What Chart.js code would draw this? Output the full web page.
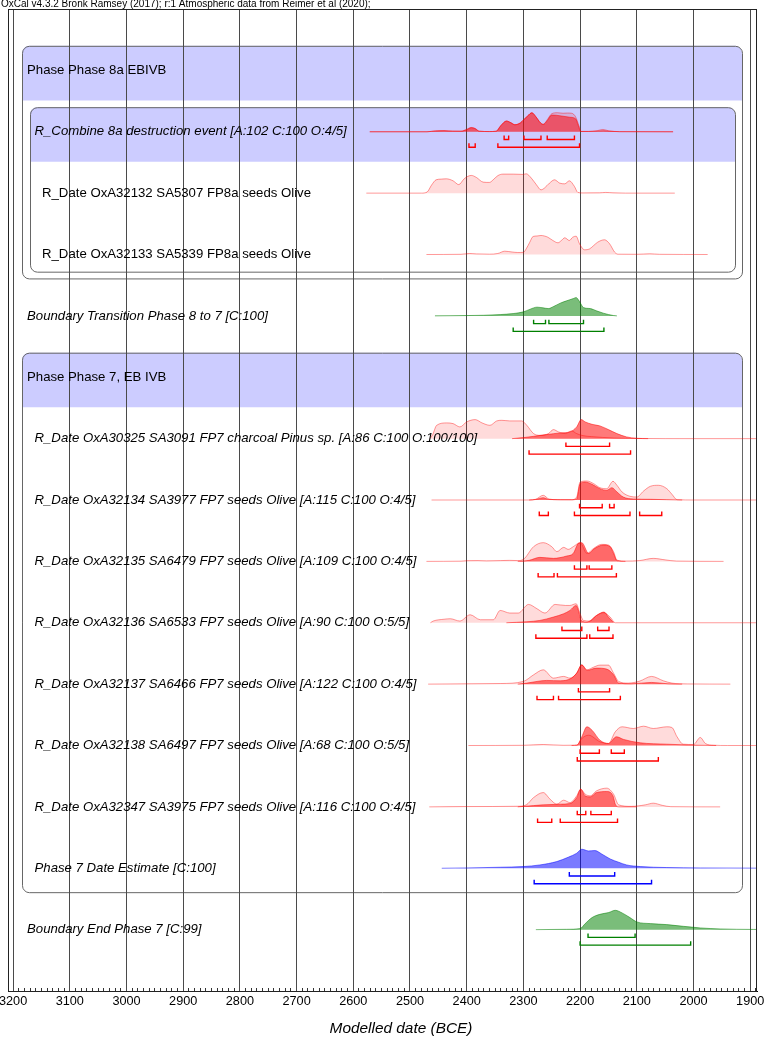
<!DOCTYPE html>
<html>
<head>
<meta charset="utf-8">
<script src="https://cdn.jsdelivr.net/npm/chart.js@4.4.1/dist/chart.umd.min.js"></script>
<style>
  html, body { margin: 0; padding: 0; background: #fff; }
  #wrap { width: 765px; height: 1043px; position: relative; }
</style>
</head>
<body>
<div id="wrap"><canvas id="oxcal"></canvas></div>
<script>
// Axis (years BCE, drawn right-to-left in time)
const X_MIN = 1888, X_MAX = 3209;
const majorTicks = [3200, 3100, 3000, 2900, 2800, 2700, 2600, 2500, 2400, 2300, 2200, 2100, 2000, 1900];

// Rows of the plot, top to bottom
const rowLabels = [
    "Phase Phase 8a EBIVB",
    "R_Combine 8a destruction event [A:102 C:100 O:4/5]",
    "R_Date OxA32132 SA5307 FP8a seeds Olive",
    "R_Date OxA32133 SA5339 FP8a seeds Olive",
    "Boundary Transition Phase 8 to 7 [C:100]",
    "Phase Phase 7, EB IVB",
    "R_Date OxA30325 SA3091 FP7 charcoal Pinus sp. [A:86 C:100 O:100/100]",
    "R_Date OxA32134 SA3977 FP7 seeds Olive [A:115 C:100 O:4/5]",
    "R_Date OxA32135 SA6479 FP7 seeds Olive [A:109 C:100 O:4/5]",
    "R_Date OxA32136 SA6533 FP7 seeds Olive [A:90 C:100 O:5/5]",
    "R_Date OxA32137 SA6466 FP7 seeds Olive [A:122 C:100 O:4/5]",
    "R_Date OxA32138 SA6497 FP7 seeds Olive [A:68 C:100 O:5/5]",
    "R_Date OxA32347 SA3975 FP7 seeds Olive [A:116 C:100 O:4/5]",
    "Phase 7 Date Estimate [C:100]",
    "Boundary End Phase 7 [C:99]"
];
const rowItalic = [false, true, false, false, true, false, true, true, true, true, true, true, true, true, true];
const rowIndent = [0, 1, 2, 2, 0, 0, 1, 1, 1, 1, 1, 1, 1, 1, 0];

// Relative probability [year BCE, density]
const combinePrior = [[2571,0],[2470,0],[2455,0.8],[2440,1],[2425,0.6],[2410,0.6],[2400,2.5],[2392,4.3],[2385,3.3],[2378,0.6],[2360,0.2],[2348,0.5],[2340,6],[2330,10.7],[2322,9],[2315,7],[2305,9],[2300,11.7],[2292,16],[2285,19],[2278,15],[2270,9],[2265,7.5],[2258,12],[2250,18],[2240,19],[2230,18.5],[2222,18.7],[2215,18.5],[2208,15],[2202,6],[2198,0.3],[2185,0.3],[2170,1],[2160,2.3],[2150,1],[2130,0.1],[2036,0]];
const combinePost = [[2571,0],[2470,0],[2455,0.8],[2440,1],[2425,0.6],[2410,0.5],[2400,2],[2392,4],[2385,3],[2378,0.5],[2360,0.2],[2348,0.5],[2340,6],[2330,10.7],[2322,9],[2315,7],[2305,9],[2300,11.7],[2292,16],[2285,19],[2278,15],[2270,9],[2265,7.3],[2258,11],[2250,16.7],[2242,16.5],[2230,15.5],[2218,14.5],[2208,13],[2203,6],[2199,0.3],[2185,0.3],[2170,0.6],[2159,1],[2148,0.4],[2130,0.1],[2036,0]];
const oxa32132Prior = [[2577,0],[2480,0],[2470,1],[2462,8],[2454,13.3],[2445,14],[2436,14.3],[2424,12.3],[2414,8.5],[2405,14],[2399,16.5],[2392,17.7],[2383,15.7],[2371,11],[2360,10.7],[2352,14],[2345,17.5],[2336,19],[2318,19],[2301,18.7],[2295,19.3],[2286,15],[2277,8.3],[2269,3.3],[2263,5],[2254,10],[2245,13.3],[2236,10],[2227,9.3],[2219,12.3],[2210,6.7],[2204,0.7],[2195,0.2],[2166,0.3],[2155,0.7],[2142,0.3],[2120,0],[2033,0]];
const oxa32133Prior = [[2471,0],[2410,0.2],[2395,1],[2383,0.6],[2360,0.3],[2345,1],[2333,3.3],[2320,2.5],[2310,2],[2300,2.2],[2295,5.7],[2289,12],[2283,18],[2276,18.5],[2269,19],[2263,18.5],[2257,17.3],[2248,14],[2239,11.7],[2233,14],[2227,16.7],[2219,14],[2213,17.3],[2207,18.3],[2201,10.7],[2192,4.7],[2183,5.7],[2176,9],[2169,12.3],[2157,14.7],[2148,10.7],[2139,2.3],[2133,0.3],[2100,0.2],[2077,0.7],[2060,0.2],[1975,0]];
const transitionPost = [[2456,0],[2400,0.3],[2370,0.6],[2341,1.3],[2318,2.3],[2300,4],[2288,6.7],[2276,8.7],[2265,8],[2256,7.3],[2247,9.3],[2235,12.7],[2224,15],[2212,17.3],[2207,18.3],[2203,16],[2200,13.3],[2194,8.3],[2182,7.3],[2171,5],[2159,2.7],[2141,0.3],[2135,0]];
const oxa30325Prior = [[2465,0],[2460,4],[2453,13.3],[2435,15.7],[2424,15],[2412,11.7],[2400,16.7],[2385,19],[2373,15.7],[2359,13.3],[2347,17.7],[2338,18.3],[2324,17.7],[2303,17.7],[2294,13.3],[2282,5],[2271,3.3],[2256,5],[2247,9],[2238,6.7],[2226,5],[2215,7.7],[2206,5],[2195,3],[2180,2],[2160,1.2],[2140,0.6],[2100,0.2],[2000,0],[1888,0]];
const oxa30325Post = [[2320,0],[2300,1],[2282,2.3],[2259,4],[2235,5.7],[2218,6.7],[2206,11.7],[2198,19],[2191,16.7],[2179,14.3],[2165,12.7],[2150,9],[2135,5],[2118,1.7],[2100,0.3],[2080,0]];
const oxa32134Prior = [[2462,0],[2290,0],[2278,0.8],[2265,4.7],[2255,1],[2240,0.3],[2215,0.3],[2206,3],[2200,18],[2188,19],[2176,16.3],[2165,12.3],[2153,11.3],[2142,18.7],[2135,14.7],[2126,8],[2112,3.7],[2100,3],[2088,9],[2076,13.7],[2062,14.7],[2047,11.3],[2038,5.7],[2029,0.3],[2000,0],[1888,0]];
const oxa32134Post = [[2290,0],[2278,0.5],[2265,2.3],[2255,0.5],[2215,0.2],[2206,1],[2200,16.3],[2191,18],[2179,15.7],[2165,11.3],[2153,9.7],[2144,12.3],[2135,8],[2124,3],[2106,1],[2076,0.7],[2047,0.3],[2020,0]];
const oxa32135Prior = [[2471,0],[2410,0.2],[2400,0.7],[2380,0.8],[2365,0.5],[2340,0.8],[2325,1],[2310,0.8],[2300,2],[2282,14.7],[2265,18.7],[2250,14.7],[2241,9.7],[2229,14],[2221,12],[2212,14.7],[2200,18.7],[2188,8],[2176,13],[2162,17],[2150,16.3],[2141,9.7],[2135,1.3],[2120,0.3],[2095,0.8],[2071,3],[2050,1.5],[2030,0.3],[1947,0]];
const oxa32135Post = [[2310,0],[2290,1],[2271,4],[2247,3],[2224,5.3],[2212,8],[2203,18],[2197,18.7],[2185,8],[2174,13],[2159,16.3],[2147,14.7],[2141,8],[2135,0.7],[2120,0]];
const oxa32136Prior = [[2464,0],[2459,1.7],[2440,3.5],[2429,4],[2412,1.7],[2394,8],[2376,3],[2353,3],[2341,12.3],[2324,9.7],[2309,9.7],[2291,18.3],[2276,14],[2262,9.7],[2244,18.3],[2226,17.3],[2218,17.3],[2207,19],[2200,9],[2194,2.3],[2182,1.7],[2171,7.3],[2158,10],[2147,5.7],[2138,0],[1888,0]];
const oxa32136Post = [[2330,0],[2294,1],[2271,2.3],[2247,5.7],[2229,9],[2218,12.3],[2207,17.3],[2203,12.3],[2198,2.3],[2188,0.7],[2171,7.3],[2158,10.7],[2150,5.7],[2141,0]];
const oxa32137Prior = [[2468,0],[2400,0.3],[2340,0.6],[2300,2.7],[2282,9.3],[2265,14.3],[2247,6],[2229,7.7],[2218,6],[2206,11],[2197,19.3],[2188,14.3],[2176,17],[2165,19],[2150,19],[2141,11],[2132,2.7],[2115,1],[2095,3],[2074,7.7],[2053,3.3],[2038,1],[2010,0.2],[1935,0]];
const oxa32137Post = [[2310,0],[2294,1],[2276,2.7],[2259,3.7],[2235,3.3],[2215,6],[2206,11],[2197,19.3],[2188,13.7],[2171,16],[2153,15],[2141,9.3],[2132,1],[2110,0.3],[2074,1.7],[2045,0.3],[2020,0]];
const oxa32138Prior = [[2397,0],[2300,0.2],[2265,1],[2230,0.2],[2206,0.3],[2197,7],[2185,10.3],[2165,3.7],[2150,2],[2138,13.7],[2126,18.7],[2106,17],[2088,19.3],[2071,17],[2047,18.7],[2038,18],[2029,8.7],[2018,1.3],[2000,1],[1988,8],[1979,2],[1965,0.3],[1940,0],[1888,0]];
const oxa32138Post = [[2215,0],[2205,0.5],[2197,8.7],[2188,18.7],[2179,15.3],[2165,5.3],[2150,2],[2136,8.7],[2123,6],[2094,2.7],[2047,1.3],[2000,0.3],[1960,0]];
const oxa32347Prior = [[2466,0],[2400,0.3],[2310,0.6],[2295,2],[2282,9.3],[2265,14.3],[2253,7.7],[2241,2.7],[2229,6.7],[2218,4.3],[2206,11],[2199,17.7],[2191,12.7],[2182,11],[2171,16],[2153,18.7],[2141,12.7],[2132,2],[2110,0.5],[2085,2],[2071,3.7],[2055,1.5],[2040,0.2],[1953,0]];
const oxa32347Post = [[2310,0],[2282,1.3],[2265,2],[2235,2.7],[2218,3.3],[2206,9.3],[2199,17.7],[2191,11],[2182,10],[2171,14.3],[2153,15.3],[2142,11],[2138,2.7],[2132,0],[2100,0]];
const phase7Post = [[2444,0],[2400,0.3],[2341,1],[2300,1.7],[2271,3.3],[2241,6.7],[2221,11],[2206,15],[2197,19],[2185,17.3],[2174,17.7],[2162,14.3],[2147,9.3],[2132,6],[2118,3.3],[2094,1.7],[2047,0.7],[1988,0.3],[1888,0.1]];
const endPost = [[2278,0],[2224,0.3],[2200,1],[2191,6],[2179,12],[2165,15.3],[2150,17],[2138,19.3],[2126,16.7],[2112,12],[2100,7.7],[2076,6],[2047,5],[2018,3.3],[1988,1.7],[1953,0.7],[1894,0.2],[1888,0.2]];

// Highest posterior density ranges [from, to] (BCE)
const combine68 = [[2334,2326],[2299,2269],[2258,2210]];
const combine95 = [[2396,2385],[2345,2201]];
const transition68 = [[2282,2261],[2255,2194]];
const transition95 = [[2318,2158]];
const oxa30325_68 = [[2225,2148]];
const oxa30325_95 = [[2290,2111]];
const oxa32134_68 = [[2201,2161],[2148,2140]];
const oxa32134_95 = [[2272,2256],[2210,2112],[2095,2056]];
const oxa32135_68 = [[2210,2188],[2184,2144]];
const oxa32135_95 = [[2274,2246],[2240,2136]];
const oxa32136_68 = [[2232,2197],[2169,2149]];
const oxa32136_95 = [[2278,2188],[2183,2142]];
const oxa32137_68 = [[2203,2148]];
const oxa32137_95 = [[2276,2247],[2238,2129]];
const oxa32138_68 = [[2200,2166],[2145,2122]];
const oxa32138_95 = [[2205,2062]];
const oxa32347_68 = [[2205,2190],[2181,2145]];
const oxa32347_95 = [[2275,2250],[2235,2134]];
const phase7_68 = [[2219,2139]];
const phase7_95 = [[2281,2074]];
const end68 = [[2186,2103]];
const end95 = [[2200,2005]];

const series = [
    { row: 1, color: "red", prior: combinePrior, post: combinePost, r68: combine68, r95: combine95 },
    { row: 2, color: "red", prior: oxa32132Prior },
    { row: 3, color: "red", prior: oxa32133Prior },
    { row: 4, color: "green", post: transitionPost, r68: transition68, r95: transition95 },
    { row: 6, color: "red", prior: oxa30325Prior, post: oxa30325Post, r68: oxa30325_68, r95: oxa30325_95 },
    { row: 7, color: "red", prior: oxa32134Prior, post: oxa32134Post, r68: oxa32134_68, r95: oxa32134_95 },
    { row: 8, color: "red", prior: oxa32135Prior, post: oxa32135Post, r68: oxa32135_68, r95: oxa32135_95 },
    { row: 9, color: "red", prior: oxa32136Prior, post: oxa32136Post, r68: oxa32136_68, r95: oxa32136_95 },
    { row: 10, color: "red", prior: oxa32137Prior, post: oxa32137Post, r68: oxa32137_68, r95: oxa32137_95 },
    { row: 11, color: "red", prior: oxa32138Prior, post: oxa32138Post, r68: oxa32138_68, r95: oxa32138_95 },
    { row: 12, color: "red", prior: oxa32347Prior, post: oxa32347Post, r68: oxa32347_68, r95: oxa32347_95 },
    { row: 13, color: "blue", post: phase7Post, r68: phase7_68, r95: phase7_95 },
    { row: 14, color: "green", post: endPost, r68: end68, r95: end95 }
];

// Phase boxes (row ranges)
const phaseBoxes = [
    { first: 0, last: 3, depth: 0 },
    { first: 1, last: 3, depth: 1 },
    { first: 5, last: 13, depth: 0 }
];

const rgb = { red: "255,0,0", green: "0,128,0", blue: "0,0,255" };
const DENS = 0.0163;   // row units per density unit
const LEVEL68 = 0.127, LEVEL95 = 0.253, TICK = 0.065;
const FONT = '"Liberation Sans", Arial, sans-serif';

function curve(pairs, row) {
    return pairs.map(p => ({ x: p[0], y: row - p[1] * DENS }));
}

function brackets(ranges, row, level) {
    const pts = [];
    ranges.forEach(([a, b]) => {
        const yl = row + level;
        pts.push({ x: a, y: yl - TICK }, { x: a, y: yl }, { x: b, y: yl }, { x: b, y: yl - TICK }, { x: b, y: null });
    });
    return pts;
}

const datasets = [];
series.forEach(s => {
    const c = rgb[s.color];
    if (s.prior) {
        datasets.push({
            data: curve(s.prior, s.row), order: 3,
            fill: { value: s.row },
            backgroundColor: "rgba(255,0,0,0.14)",
            borderColor: "rgba(255,0,0,0.4)", borderWidth: 1,
            cubicInterpolationMode: "monotone"
        });
    }
    if (s.post) {
        datasets.push({
            data: curve(s.post, s.row), order: 2,
            fill: { value: s.row },
            backgroundColor: "rgba(" + c + ",0.52)",
            borderColor: "rgba(" + c + ",0.5)", borderWidth: 1,
            cubicInterpolationMode: "monotone"
        });
    }
    if (s.r68) {
        datasets.push({ data: brackets(s.r68, s.row, LEVEL68), order: 1, borderColor: "rgb(" + c + ")", borderWidth: 1.4, fill: false });
        datasets.push({ data: brackets(s.r95, s.row, LEVEL95), order: 1, borderColor: "rgb(" + c + ")", borderWidth: 1.4, fill: false });
    }
});
datasets.forEach(d => { d.xAxisID = "x"; d.yAxisID = "y"; d.pointRadius = 0; d.spanGaps = false; });

const minorTicks = [];
for (let v = 3200; v >= 1890; v -= 10) minorTicks.push(v);

// Phase boxes under the grid
const boxPlugin = {
    id: "phaseBoxes",
    beforeDraw(chart) {
        const { ctx, chartArea: a, scales: { y } } = chart;
        ctx.save();
        phaseBoxes.forEach(b => {
            const left = a.left + 14 + 8 * b.depth;
            const right = a.right - 15 - 7 * b.depth;
            const top = y.getPixelForValue(b.first - 0.4);
            const band = y.getPixelForValue(b.first + 0.49);
            const bottom = y.getPixelForValue(b.last + 0.39 - 0.11 * b.depth);
            const r = 7;
            ctx.beginPath();
            ctx.moveTo(left, band);
            ctx.lineTo(left, top + r);
            ctx.arcTo(left, top, left + r, top, r);
            ctx.lineTo(right - r, top);
            ctx.arcTo(right, top, right, top + r, r);
            ctx.lineTo(right, band);
            ctx.closePath();
            ctx.fillStyle = "#ccccff";
            ctx.fill();
            ctx.beginPath();
            ctx.roundRect(left + 0.5, top + 0.5, right - left, bottom - top, r);
            ctx.strokeStyle = "#666";
            ctx.lineWidth = 1;
            ctx.stroke();
        });
        ctx.restore();
    },
    afterDatasetsDraw(chart) {
        const { ctx, chartArea: a, scales: { y } } = chart;
        ctx.save();
        ctx.fillStyle = "#000";
        ctx.textBaseline = "middle";
        ctx.textAlign = "left";
        rowLabels.forEach((t, i) => {
            ctx.font = (rowItalic[i] ? "italic " : "") + "13.2px " + FONT;
            ctx.fillText(t, a.left + 19 + 7.5 * rowIndent[i], y.getPixelForValue(i));
        });
        ctx.restore();
    },
    afterDraw(chart) {
        const { ctx, chartArea: a } = chart;
        ctx.save();
        ctx.strokeStyle = "#222";
        ctx.lineWidth = 1;
        ctx.strokeRect(a.left + 0.5, a.top + 0.5, a.right - a.left - 1, a.bottom - a.top);
        ctx.fillStyle = "#000";
        ctx.textBaseline = "middle";
        ctx.textAlign = "left";
        ctx.font = "10px " + FONT;
        ctx.fillText("OxCal v4.3.2 Bronk Ramsey (2017); r:1 Atmospheric data from Reimer et al (2020);", 1, 4);
        ctx.textAlign = "center";
        ctx.font = "italic 15.4px " + FONT;
        ctx.fillText("Modelled date (BCE)", 401, 1029);
        ctx.restore();
    }
};

new Chart(document.getElementById("oxcal"), {
    type: "line",
    data: { datasets: datasets },
    options: {
        responsive: true,
        maintainAspectRatio: false,
        animation: false,
        devicePixelRatio: 1,
        events: [],
        layout: { padding: { left: 8, right: 8, top: 9, bottom: 0 } },
        elements: { line: { tension: 0 } },
        plugins: { legend: { display: false }, tooltip: { enabled: false } },
        scales: {
            xMinor: {
                type: "linear", position: "bottom", weight: 0,
                min: X_MIN, max: X_MAX, reverse: true,
                afterBuildTicks: s => { s.ticks = minorTicks.map(v => ({ value: v })); },
                afterFit: s => { s.height = 0; s.paddingLeft = 0; s.paddingRight = 0; },
                grid: { drawOnChartArea: false, drawTicks: true, tickLength: -3, color: "#333", lineWidth: 1 },
                border: { display: false },
                ticks: { display: false }
            },
            x: {
                type: "linear", position: "bottom", weight: 1,
                min: X_MIN, max: X_MAX, reverse: true,
                afterBuildTicks: s => { s.ticks = majorTicks.map(v => ({ value: v })); },
                afterFit: s => { s.height = 52; s.paddingLeft = 0; s.paddingRight = 0; },
                grid: { color: "#4a4a4a", lineWidth: 1, drawTicks: false },
                border: { display: true, color: "#000", width: 1 },
                ticks: {
                    padding: 2.5, color: "#000", maxRotation: 0, autoSkip: false,
                    font: { family: FONT, size: 12.7 },
                    callback: v => String(v)
                }
            },
            y: { type: "linear", display: false, min: -1, max: 15, reverse: true }
        }
    },
    plugins: [boxPlugin]
});
</script>
</body>
</html>
